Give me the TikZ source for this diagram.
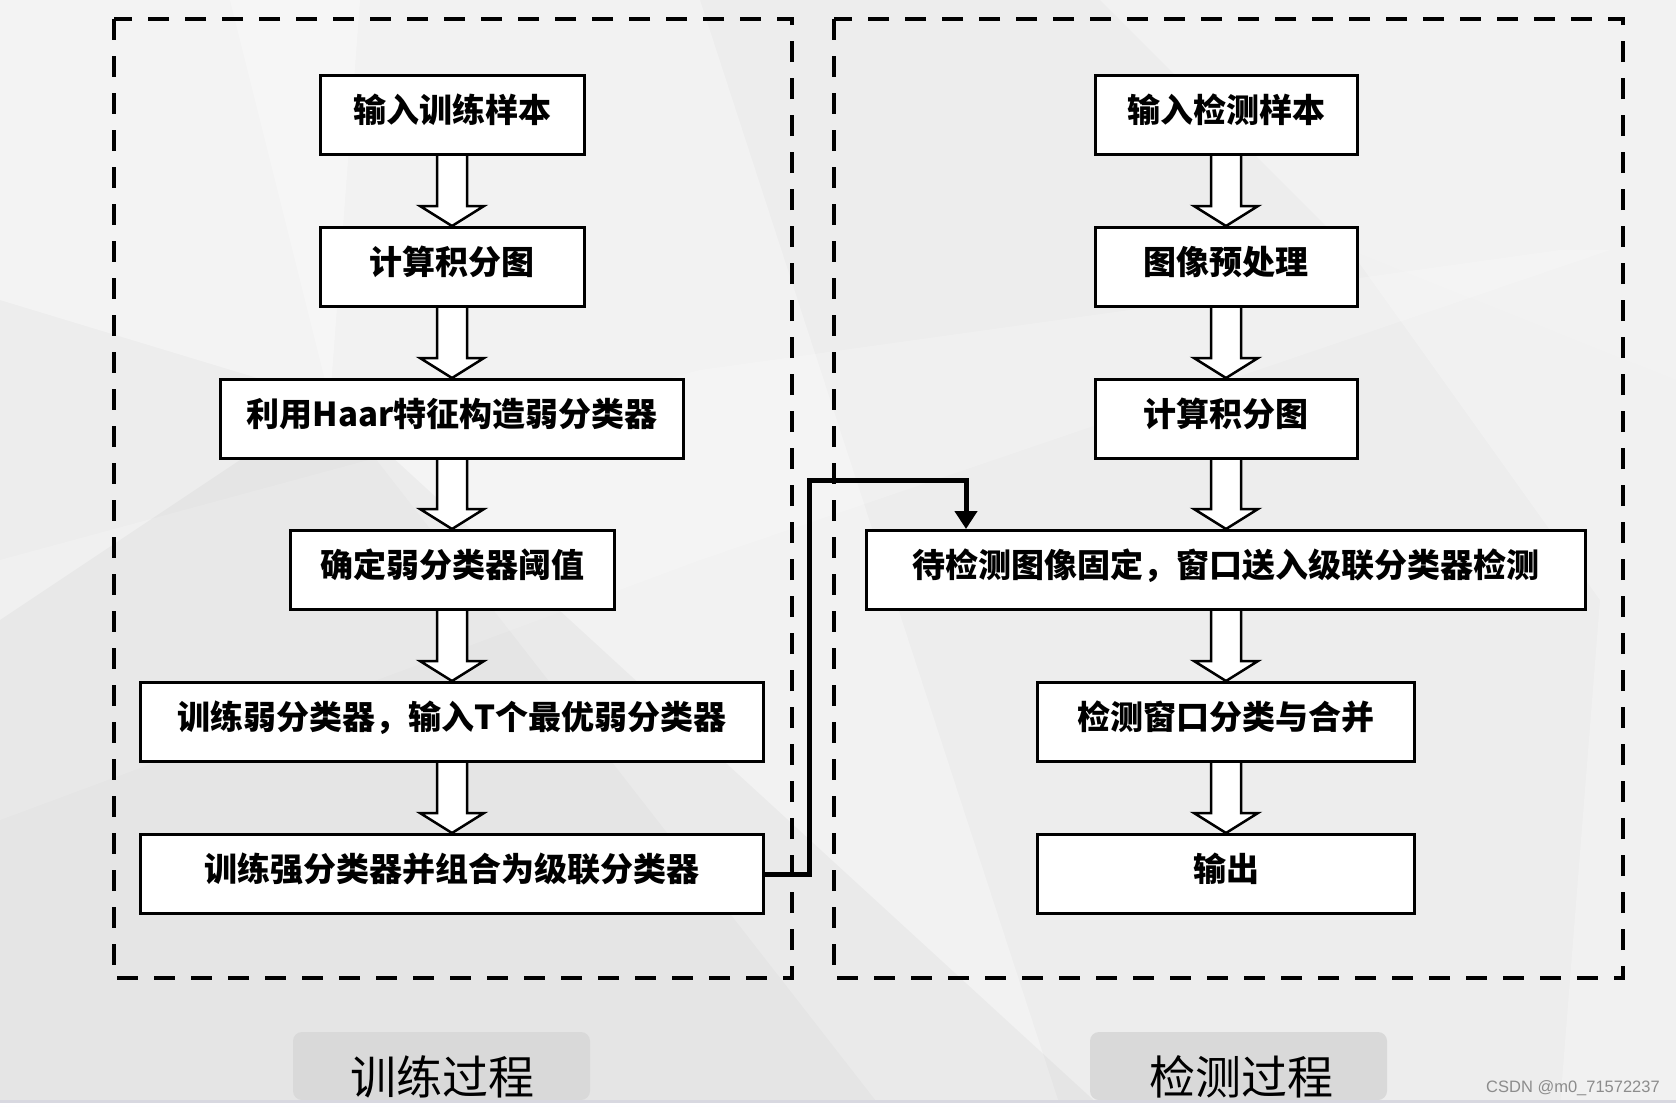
\documentclass[tikz,border=0pt]{standalone}
\usepackage{fontspec}
\usetikzlibrary{calc,arrows.meta}
\newfontfamily\cjk{Noto Sans CJK SC}
\newfontfamily\wmfont{Liberation Sans}
\definecolor{bgc}{HTML}{EDEDED}
\definecolor{tabc}{HTML}{D9D9D9}
\definecolor{wmc}{HTML}{8C8C8C}
\definecolor{edgec}{HTML}{D8D8E0}
\tikzset{
  box/.style={draw=black, line width=3pt, fill=white, minimum height=79pt, inner sep=0pt,
    text height=25pt, text depth=10pt,
    font=\cjk\bfseries\fontsize{33}{33}\selectfont},
  harrow/.style={draw=black, fill=white, line width=2.5pt, line join=miter},
  groupbox/.style={draw=black, line width=4pt, dash pattern=on 21pt off 16pt},
  conn/.style={draw=black, line width=5pt, line join=miter, -{Triangle[width=22pt,length=18pt]}},
  tab/.style={fill=tabc, rounded corners=9pt},
  tablabel/.style={font=\cjk\fontsize{46}{46}\selectfont, text=black},
  wm/.style={font=\wmfont\fontsize{16.5}{16.5}\selectfont, text=wmc}
}
\newcommand\hollowarr[2]{%
  \draw[harrow] ($(#1.south)+(-15,0)$) -- ($(#2.north)+(-15,-20)$) -- ($(#2.north)+(-32,-20)$)
   -- (#2.north) -- ($(#2.north)+(32,-20)$) -- ($(#2.north)+(15,-20)$) -- ($(#1.south)+(15,0)$);}
\begin{document}
\begin{tikzpicture}[x=1pt,y=-1pt]
\useasboundingbox (0,0) rectangle (1676,1106);
\clip (0,0) rectangle (1676,1106);
% background
\fill[bgc] (0,0) rectangle (1676,1106);
\fill[white, opacity=0.35] (0,0) -- (360,0) -- (330,400) -- (0,300) -- cycle;
\fill[white, opacity=0.30] (230,0) -- (700,0) -- (1060,1106) -- (880,1106) -- (330,400) -- cycle;
\fill[white, opacity=0.30] (1100,0) -- (1676,0) -- (1676,380) -- (1350,250) -- cycle;
\fill[white, opacity=0.25] (1350,250) -- (1676,380) -- (1676,1106) -- (1560,1106) -- (1600,600) -- cycle;
\fill[white, opacity=0.20] (0,560) -- (700,370) -- (1560,250) -- (1610,250) -- (700,560) -- (0,820) -- cycle;
\fill[black, opacity=0.03] (330,400) -- (1100,1106) -- (0,1106) -- (0,620) -- cycle;
% bottom edge
\fill[white] (0,1101) rectangle (1676,1106);
% group boxes
\draw[groupbox] (114,19) rectangle (792,978);
\draw[groupbox] (834,19) rectangle (1623,978);
% left column
\node[box, minimum width=264pt] (L1) at (452,115) {输入训练样本};
\node[box, minimum width=264pt] (L2) at (452,267) {计算积分图};
\node[box, minimum width=463pt] (L3) at (452,419) {利用Haar特征构造弱分类器};
\node[box, minimum width=324pt] (L4) at (452,570) {确定弱分类器阈值};
\node[box, minimum width=623pt] (L5) at (452,722) {训练弱分类器，输入T个最优弱分类器};
\node[box, minimum width=623pt] (L6) at (452,874) {训练强分类器并组合为级联分类器};
% right column
\node[box, minimum width=262pt] (R1) at (1226,115) {输入检测样本};
\node[box, minimum width=262pt] (R2) at (1226,267) {图像预处理};
\node[box, minimum width=262pt] (R3) at (1226,419) {计算积分图};
\node[box, minimum width=719pt] (R4) at (1226,570) {待检测图像固定，窗口送入级联分类器检测};
\node[box, minimum width=377pt] (R5) at (1226,722) {检测窗口分类与合并};
\node[box, minimum width=377pt] (R6) at (1226,874) {输出};
% hollow arrows
\hollowarr{L1}{L2}
\hollowarr{L2}{L3}
\hollowarr{L3}{L4}
\hollowarr{L4}{L5}
\hollowarr{L5}{L6}
\hollowarr{R1}{R2}
\hollowarr{R2}{R3}
\hollowarr{R3}{R4}
\hollowarr{R4}{R5}
\hollowarr{R5}{R6}
% connector between processes
\coordinate (bend) at (809,480);
\coordinate (tgt) at ([xshift=101pt]R4.north west);
\draw[conn] (L6.east) -| (bend) -| (tgt);
% bottom tabs
\fill[tab] (293,1100) -- (293,1032) -- (590,1032) -- (590,1100) -- cycle;
\fill[tab] (1090,1100) -- (1090,1032) -- (1387,1032) -- (1387,1100) -- cycle;
\node[tablabel] (t1) at (442,1077) {训练过程};
\node[tablabel] (t2) at (1241,1077) {检测过程};
\fill[edgec] (0,1100) rectangle (1676,1102.5);
\node[wm] (w) at (1573,1088) {CSDN @m0\_71572237};
\end{tikzpicture}
\end{document}
